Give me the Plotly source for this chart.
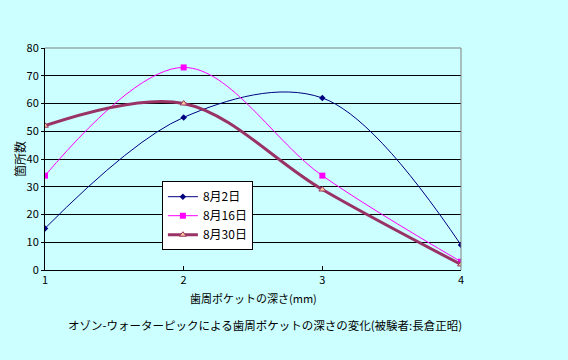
import plotly.graph_objects as go

depths = [1, 2, 3, 4]
aug2 = [15, 55, 62, 9]
aug16 = [34, 73, 34, 3]
aug30 = [52, 60, 29, 2]
series_names = ["8月2日", "8月16日", "8月30日"]
x_title = "歯周ポケットの深さ(mm)"
y_title = "箇所数"
caption = "オゾン-ウォーターピックによる歯周ポケットの深さの変化(被験者:長倉正昭)"

FONT = "Noto Sans CJK JP"
BG = "#CCFFFF"

fig = go.Figure()
fig.add_trace(go.Scatter(x=depths, y=aug2, name=series_names[0], mode="lines+markers",
                         line=dict(color="#000080", width=1, shape="spline", smoothing=1),
                         marker=dict(symbol="diamond", size=5, color="#000080")))
fig.add_trace(go.Scatter(x=depths, y=aug16, name=series_names[1], mode="lines+markers",
                         line=dict(color="#FF00FF", width=1, shape="spline", smoothing=1),
                         marker=dict(symbol="square", size=6, color="#FF00FF")))
fig.add_trace(go.Scatter(x=depths, y=aug30, name=series_names[2], mode="lines+markers",
                         line=dict(color="#993366", width=3, shape="spline", smoothing=1),
                         marker=dict(symbol="triangle-up", size=6, color="#FFCC99",
                                     line=dict(color="#993366", width=1))))

fig.update_layout(
    width=568, height=360,
    paper_bgcolor=BG, plot_bgcolor=BG,
    margin=dict(l=45, r=107, t=48, b=90),
    font=dict(family=FONT, size=11, color="black"),
    showlegend=True,
    legend=dict(x=0.281, y=0.40, xanchor="left", yanchor="top",
                bgcolor="white", bordercolor="black", borderwidth=1,
                font=dict(family=FONT, size=12), itemwidth=30,
                tracegroupgap=0),
    xaxis=dict(range=[1, 4], tickvals=depths, ticktext=[str(d) for d in depths],
               showgrid=False, zeroline=False, showline=True, linecolor="black",
               linewidth=1, ticks="inside", ticklen=4, tickcolor="black",
               automargin=False),
    yaxis=dict(range=[0, 80], dtick=10, showgrid=True, gridcolor="black", gridwidth=1,
               zeroline=False, showline=True, linecolor="black", linewidth=1,
               ticks="outside", ticklen=3, tickcolor="black", automargin=False),
    shapes=[dict(type="path", xref="paper", yref="paper", path="M 0,1 L 1,1 L 1,0",
                 line=dict(color="#808080", width=1), layer="above")],
    annotations=[
        dict(text=x_title, xref="paper", yref="paper", x=0.5, y=0,
             xanchor="center", yanchor="middle", yshift=-28, showarrow=False,
             font=dict(family=FONT, size=11)),
        dict(text=y_title, xref="paper", yref="paper", x=0, y=0.5,
             xanchor="center", yanchor="middle", xshift=-26, textangle=-90,
             showarrow=False, font=dict(family=FONT, size=12)),
        dict(text=caption, xref="paper", yref="paper", x=0.5, y=0,
             xanchor="center", yanchor="middle", yshift=-55, xshift=12,
             showarrow=False, font=dict(family=FONT, size=11.5)),
    ],
)

fig.write_html("out.html",
               config={"displayModeBar": False},
               post_script="document.body.style.margin='0';"
                           "document.body.style.background='#CCFFFF';"
                           "document.body.style.overflow='hidden';")
